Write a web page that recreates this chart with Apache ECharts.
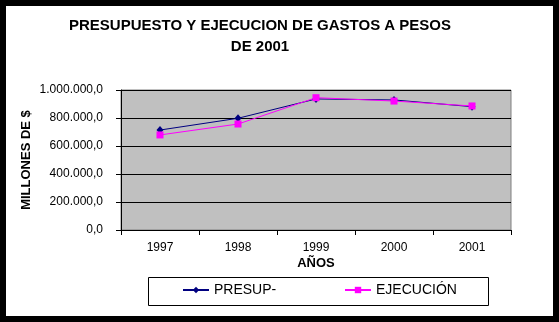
<!DOCTYPE html>
<html>
<head>
<meta charset="utf-8">
<script src="https://cdn.jsdelivr.net/npm/echarts@6/dist/echarts.min.js"></script>
<style>
  html, body { margin: 0; padding: 0; background: #000; }
  #chart {
    width: 559px; height: 322px;
    background: #fff;
    box-shadow: inset 0 0 0 6px #000;
  }
</style>
</head>
<body>
<div id="chart"></div>
<script>
// Budget vs. execution of expenses, constant 2001 pesos (millions)
const years = ['1997', '1998', '1999', '2000', '2001'];
const presupuesto = [714000, 798000, 936000, 929000, 881000];
const ejecucion = [679000, 757000, 945000, 921000, 886000];
const yTicks = [0, 200000, 400000, 600000, 800000, 1000000];

const FONT = '"Liberation Sans", Arial, sans-serif';

// Spanish number format: thousands with dots, one decimal with comma
function fmt(v) {
  const s = Math.round(v).toString().replace(/\B(?=(\d{3})+(?!\d))/g, '.');
  return s + ',0';
}

const chart = echarts.init(document.getElementById('chart'), null, { renderer: 'canvas' });

chart.setOption({
  animation: false,
  textStyle: { fontFamily: FONT },
  title: {
    text: 'PRESUPUESTO Y EJECUCION DE GASTOS A PESOS\nDE 2001',
    left: 260,
    top: 15,
    padding: 0,
    textAlign: 'center',
    textStyle: { fontFamily: FONT, fontSize: 15, fontWeight: 'bold', color: '#000', lineHeight: 21 }
  },
  grid: {
    left: 121, right: 48, top: 90, bottom: 92,
    show: true,
    backgroundColor: '#c0c0c0',
    borderColor: '#808080',
    borderWidth: 1
  },
  legend: [
    {
      data: ['PRESUP-'],
      left: 182, top: 283, padding: 0,
      itemWidth: 26, itemHeight: 8, itemGap: 0,
      textStyle: { fontFamily: FONT, fontSize: 14, color: '#000' }
    },
    {
      data: ['EJECUCIÓN'],
      left: 344, top: 283, padding: 0,
      itemWidth: 26, itemHeight: 8, itemGap: 0,
      textStyle: { fontFamily: FONT, fontSize: 14, color: '#000' }
    }
  ],
  graphic: [
    {
      type: 'rect',
      shape: { x: 148.5, y: 277.5, width: 340, height: 28 },
      style: { fill: 'none', stroke: '#000', lineWidth: 1 },
      silent: true
    }
  ],
  xAxis: {
    type: 'category',
    data: years,
    boundaryGap: true,
    name: 'AÑOS',
    nameLocation: 'middle',
    nameGap: 27,
    nameMoveOverlap: false,
    nameTextStyle: { fontFamily: FONT, fontSize: 13, fontWeight: 'bold', color: '#000' },
    axisLine: { lineStyle: { color: '#000', width: 1 } },
    axisTick: { show: true, length: 5, lineStyle: { color: '#000' } },
    axisLabel: { margin: 12, fontSize: 12, color: '#000', fontFamily: FONT },
    splitLine: { show: false }
  },
  yAxis: {
    type: 'value',
    min: yTicks[0],
    max: yTicks[yTicks.length - 1],
    interval: yTicks[1] - yTicks[0],
    name: 'MILLONES DE $',
    nameLocation: 'middle',
    nameGap: 88,
    nameRotate: 90,
    nameMoveOverlap: false,
    nameTextStyle: { fontFamily: FONT, fontSize: 13, fontWeight: 'bold', color: '#000' },
    axisLine: { show: true, lineStyle: { color: '#000', width: 1 } },
    axisTick: { show: true, length: 5, lineStyle: { color: '#000' } },
    axisLabel: { margin: 18, fontSize: 12, color: '#000', fontFamily: FONT, formatter: fmt },
    splitLine: { show: true, lineStyle: { color: '#000', width: 1 } }
  },
  series: [
    {
      name: 'PRESUP-',
      type: 'line',
      data: presupuesto,
      symbol: 'diamond',
      symbolSize: [7, 8],
      lineStyle: { color: '#000080', width: 1 },
      itemStyle: { color: '#000080' }
    },
    {
      name: 'EJECUCIÓN',
      type: 'line',
      data: ejecucion,
      symbol: 'rect',
      symbolSize: 7,
      lineStyle: { color: '#ff00ff', width: 1 },
      itemStyle: { color: '#ff00ff' }
    }
  ]
});
</script>
</body>
</html>
